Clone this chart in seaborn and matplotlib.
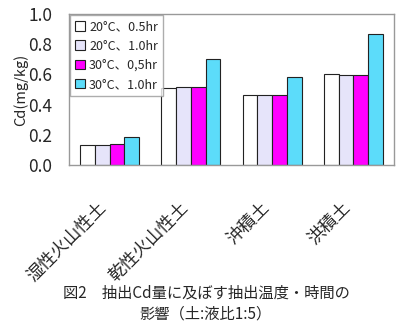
import matplotlib
matplotlib.use("Agg")
import matplotlib.pyplot as plt
import matplotlib.transforms as mtransforms
from matplotlib.patches import Patch
import seaborn as sns
import pandas as pd

soils = ["湿性火山性土", "乾性火山性土", "沖積土", "洪積土"]
conditions = ["20°C、0.5hr", "20°C、1.0hr", "30°C、0,5hr", "30°C、1.0hr"]
v_20_05 = [0.133, 0.511, 0.464, 0.604]
v_20_10 = [0.133, 0.516, 0.464, 0.598]
v_30_05 = [0.140, 0.516, 0.464, 0.598]
v_30_10 = [0.184, 0.704, 0.584, 0.869]
colors = ["#FFFFFF", "#E6E4FA", "#FF00FF", "#5CDCFA"]

rows = []
for cond, vals in zip(conditions, [v_20_05, v_20_10, v_30_05, v_30_10]):
    for soil, v in zip(soils, vals):
        rows.append({"soil": soil, "cond": cond, "cd": v})
df = pd.DataFrame(rows)

sns.set_theme(style="white")
plt.rcParams["font.family"] = ["Noto Sans CJK JP", "DejaVu Sans"]

fig = plt.figure(figsize=(4.0, 3.3), dpi=100)
ax = fig.add_axes([0.1725, 0.5, 0.8125, 0.4576])

sns.barplot(data=df, x="soil", y="cd", hue="cond", order=soils,
            hue_order=conditions, palette=colors, width=0.725, gap=0,
            edgecolor="#222222", linewidth=0.8, saturation=1,
            errorbar=None, legend=False, ax=ax)

ax.set_ylim(0, 1.0)
ax.set_xlim(-0.5, 3.5)
ax.set_yticks([0.0, 0.2, 0.4, 0.6, 0.8, 1.0])
ax.set_yticklabels(["0.0", "0.2", "0.4", "0.6", "0.8", "1.0"], fontsize=12.5)
ax.set_ylabel("Cd(mg/kg)", fontsize=10.5, labelpad=0)
ax.set_xlabel("")

for s in ax.spines.values():
    s.set_color("#999999")
    s.set_linewidth(1.0)
ax.tick_params(axis="y", direction="in", length=4, color="#999999", pad=12)
ax.set_xticks([0.5, 1.5, 2.5], minor=True)
ax.tick_params(axis="x", which="minor", direction="in", length=4, color="#999999")
ax.tick_params(axis="x", which="major", length=0, pad=24)

ax.set_xticks(range(len(soils)))
ax.set_xticklabels(soils, fontsize=12.5, rotation=45, ha="right",
                   va="top", rotation_mode="anchor")
offset = mtransforms.ScaledTranslation(-12 / 100, 0, fig.dpi_scale_trans)
for lab in ax.get_xticklabels():
    lab.set_transform(lab.get_transform() + offset)

handles = [Patch(facecolor=c, edgecolor="#222222", linewidth=0.8) for c in colors]
leg = ax.legend(handles, conditions, loc="upper left", bbox_to_anchor=(0.0, 1.0),
                fontsize=9, frameon=True, fancybox=False, handlelength=0.8,
                handleheight=0.8, handletextpad=0.3, labelspacing=0.5,
                borderpad=0.4, borderaxespad=0.1)
leg.get_frame().set_edgecolor("#999999")
leg.get_frame().set_linewidth(1.0)

fig.text(0.515, 0.113, "図2　抽出Cd量に及ぼす抽出温度・時間の", ha="center",
         va="center", fontsize=11)
fig.text(0.515, 0.048, "影響（土:液比1:5）", ha="center", va="center", fontsize=11)

fig.savefig("out.png", dpi=100)
